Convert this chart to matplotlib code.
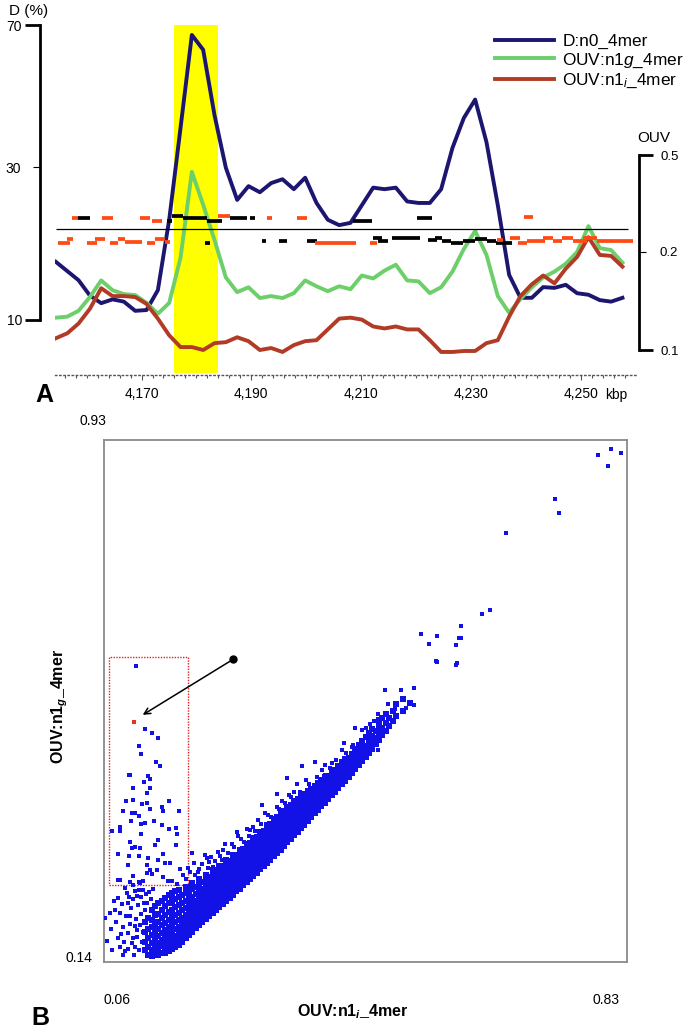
import numpy as np
import matplotlib
matplotlib.use('Agg')
import matplotlib.pyplot as plt
from matplotlib.patches import Rectangle

plt.rcParams['font.family'] = ['Liberation Sans', 'DejaVu Sans']
plt.rcParams['mathtext.fontset'] = 'custom'
plt.rcParams['mathtext.rm'] = 'Liberation Sans'
plt.rcParams['mathtext.it'] = 'Liberation Sans:italic'
plt.rcParams['mathtext.bf'] = 'Liberation Sans:bold'
plt.rcParams['mathtext.bfit'] = 'Liberation Sans:italic:bold'

# ---------------- panel A data ----------------
kbp = np.linspace(4154.4, 4257.6, 51)   # window centres

d_n0 = [17.6, 16.4, 15.2, 13.2, 12.2, 12.7, 12.4, 11.2, 11.3, 13.9,
        23.1, 41.0, 67.2, 63.0, 44.6, 29.9, 25.7, 27.5, 26.7, 27.9,
        28.4, 27.1, 28.6, 25.3, 23.1, 22.4, 22.7, 25.0, 27.3, 27.1,
        27.3, 25.5, 25.3, 25.3, 27.1, 35.4, 43.8, 49.0, 37.0, 25.0,
        15.9, 12.9, 12.9, 14.3, 14.2, 14.6, 13.5, 13.3, 12.6, 12.4, 12.9]

ouv_g = [0.133, 0.134, 0.140, 0.154, 0.171, 0.161, 0.157, 0.156, 0.148, 0.137,
         0.148, 0.194, 0.448, 0.346, 0.237, 0.174, 0.159, 0.164, 0.153, 0.155,
         0.153, 0.158, 0.171, 0.165, 0.160, 0.165, 0.162, 0.176, 0.173, 0.181,
         0.187, 0.171, 0.170, 0.158, 0.164, 0.180, 0.209, 0.265, 0.197, 0.155,
         0.138, 0.152, 0.164, 0.174, 0.180, 0.188, 0.200, 0.280, 0.212, 0.206, 0.189]

ouv_i = [0.112, 0.117, 0.127, 0.142, 0.163, 0.155, 0.155, 0.154, 0.147, 0.132,
         0.115, 0.103, 0.103, 0.100, 0.107, 0.108, 0.113, 0.109, 0.100, 0.102,
         0.098, 0.105, 0.109, 0.110, 0.121, 0.132, 0.133, 0.131, 0.124, 0.122,
         0.124, 0.121, 0.121, 0.110, 0.098, 0.098, 0.099, 0.099, 0.107, 0.110,
         0.134, 0.155, 0.167, 0.176, 0.168, 0.183, 0.195, 0.246, 0.197, 0.196, 0.185]

# short segments (start kbp, end kbp, OUV level)
red_segs = [(4157.3, 4158.4, 0.305), (4162.8, 4164.8, 0.305), (4169.7, 4171.5, 0.305),
            (4171.9, 4173.7, 0.296), (4183.9, 4186.1, 0.311), (4192.9, 4193.8, 0.305),
            (4198.3, 4200.1, 0.305), (4239.7, 4241.3, 0.308),
            (4154.8, 4157.0, 0.228), (4156.4, 4157.5, 0.240), (4160.1, 4161.9, 0.228),
            (4161.5, 4163.4, 0.240), (4164.3, 4165.7, 0.228), (4165.7, 4167.0, 0.240),
            (4167.0, 4170.1, 0.231), (4171.0, 4172.5, 0.228), (4172.5, 4174.3, 0.240),
            (4174.3, 4175.2, 0.231), (4201.6, 4209.1, 0.228), (4211.6, 4212.9, 0.228),
            (4234.8, 4235.9, 0.237), (4237.1, 4239.0, 0.243), (4238.6, 4240.2, 0.228),
            (4240.2, 4242.0, 0.234), (4242.0, 4243.5, 0.234), (4243.1, 4245.0, 0.243),
            (4245.0, 4246.6, 0.234), (4246.6, 4248.6, 0.243), (4248.6, 4251.2, 0.234),
            (4250.4, 4253.0, 0.243), (4253.0, 4259.5, 0.234)]
black_segs = [(4158.4, 4160.6, 0.305), (4174.6, 4175.6, 0.296), (4175.6, 4177.6, 0.311),
              (4177.6, 4181.9, 0.305), (4181.9, 4184.7, 0.296), (4186.1, 4189.2, 0.305),
              (4189.7, 4190.7, 0.305), (4208.5, 4212.0, 0.296), (4220.2, 4222.9, 0.305),
              (4181.6, 4182.5, 0.228), (4191.9, 4192.7, 0.234), (4195.0, 4196.5, 0.234),
              (4200.1, 4202.0, 0.234), (4212.2, 4213.8, 0.243), (4213.1, 4214.9, 0.234),
              (4215.6, 4220.7, 0.243), (4222.2, 4223.9, 0.237), (4223.5, 4224.8, 0.243),
              (4224.8, 4226.3, 0.234), (4226.3, 4228.6, 0.228), (4228.6, 4230.8, 0.234),
              (4230.8, 4233.0, 0.240), (4233.0, 4234.5, 0.234), (4234.5, 4237.5, 0.228)]
threshold = 0.271
island = (4175.9, 4183.9)

# ---------------- panel B data ----------------
# dense diagonal band, listed column by column: (OUV:n1i, [OUV:n1g ...])
band_cols = [
    (0.120, [0.158, 0.171, 0.186, 0.201]),
    (0.125, [0.151, 0.163, 0.176, 0.190, 0.207]),
    (0.130, [0.149, 0.158, 0.169, 0.181, 0.193, 0.204, 0.218]),
    (0.135, [0.153, 0.163, 0.174, 0.186, 0.197, 0.211, 0.225]),
    (0.140, [0.150, 0.159, 0.168, 0.179, 0.190, 0.201, 0.213, 0.229]),
    (0.145, [0.154, 0.164, 0.173, 0.184, 0.196, 0.207, 0.219, 0.233]),
    (0.150, [0.153, 0.161, 0.170, 0.179, 0.188, 0.199, 0.211, 0.224, 0.237]),
    (0.155, [0.157, 0.166, 0.175, 0.184, 0.193, 0.204, 0.216, 0.229, 0.241]),
    (0.160, [0.159, 0.168, 0.177, 0.186, 0.196, 0.207, 0.219, 0.232, 0.244]),
    (0.165, [0.162, 0.171, 0.180, 0.190, 0.200, 0.211, 0.223, 0.236, 0.247]),
    (0.170, [0.166, 0.175, 0.184, 0.193, 0.203, 0.214, 0.226, 0.239, 0.249]),
    (0.175, [0.171, 0.179, 0.188, 0.197, 0.207, 0.218, 0.229, 0.242]),
    (0.180, [0.176, 0.184, 0.193, 0.202, 0.211, 0.221, 0.232, 0.245, 0.254]),
    (0.185, [0.181, 0.189, 0.198, 0.207, 0.216, 0.225, 0.236, 0.248]),
    (0.190, [0.186, 0.194, 0.203, 0.211, 0.220, 0.229, 0.239, 0.250, 0.259]),
    (0.195, [0.191, 0.199, 0.207, 0.216, 0.224, 0.233, 0.243, 0.254]),
    (0.200, [0.196, 0.204, 0.212, 0.220, 0.229, 0.237, 0.246, 0.257, 0.265]),
    (0.205, [0.200, 0.208, 0.216, 0.225, 0.233, 0.242, 0.251, 0.261]),
    (0.210, [0.205, 0.213, 0.221, 0.229, 0.237, 0.246, 0.255, 0.264, 0.272]),
    (0.215, [0.209, 0.217, 0.225, 0.233, 0.242, 0.250, 0.259, 0.268]),
    (0.220, [0.214, 0.222, 0.230, 0.238, 0.246, 0.255, 0.263, 0.272, 0.279]),
    (0.225, [0.219, 0.227, 0.235, 0.243, 0.251, 0.259, 0.268, 0.277]),
    (0.230, [0.223, 0.231, 0.239, 0.247, 0.255, 0.263, 0.272, 0.280, 0.286]),
    (0.235, [0.228, 0.236, 0.244, 0.252, 0.260, 0.268, 0.276, 0.285]),
    (0.240, [0.233, 0.241, 0.249, 0.257, 0.264, 0.272, 0.280, 0.288, 0.294]),
    (0.245, [0.237, 0.245, 0.253, 0.261, 0.269, 0.277, 0.285, 0.293]),
    (0.250, [0.242, 0.250, 0.258, 0.266, 0.273, 0.281, 0.289, 0.297, 0.302]),
    (0.255, [0.247, 0.255, 0.263, 0.270, 0.278, 0.286, 0.294, 0.302]),
    (0.260, [0.251, 0.259, 0.267, 0.275, 0.283, 0.290, 0.298, 0.305, 0.310]),
    (0.265, [0.256, 0.264, 0.272, 0.280, 0.287, 0.295, 0.303, 0.311]),
    (0.270, [0.261, 0.269, 0.276, 0.284, 0.292, 0.300, 0.307, 0.314, 0.318]),
    (0.275, [0.265, 0.273, 0.281, 0.289, 0.296, 0.304, 0.312, 0.320]),
    (0.280, [0.270, 0.278, 0.286, 0.293, 0.301, 0.309, 0.316, 0.323, 0.327]),
    (0.285, [0.275, 0.283, 0.290, 0.298, 0.306, 0.313, 0.321, 0.329]),
    (0.290, [0.280, 0.288, 0.295, 0.303, 0.310, 0.318, 0.326, 0.333, 0.337]),
    (0.295, [0.285, 0.293, 0.300, 0.308, 0.315, 0.323, 0.331, 0.339]),
    (0.300, [0.290, 0.298, 0.305, 0.313, 0.320, 0.328, 0.336, 0.343, 0.347]),
    (0.305, [0.295, 0.303, 0.310, 0.318, 0.325, 0.333, 0.341, 0.349]),
    (0.310, [0.300, 0.308, 0.315, 0.323, 0.330, 0.338, 0.346, 0.353, 0.357]),
    (0.315, [0.305, 0.313, 0.320, 0.328, 0.335, 0.343, 0.351, 0.359]),
    (0.320, [0.310, 0.318, 0.325, 0.333, 0.340, 0.348, 0.355, 0.362, 0.367]),
    (0.325, [0.315, 0.323, 0.330, 0.338, 0.345, 0.352, 0.360, 0.368]),
    (0.330, [0.321, 0.328, 0.336, 0.343, 0.350, 0.357, 0.364, 0.371, 0.375]),
    (0.335, [0.326, 0.334, 0.341, 0.348, 0.355, 0.362, 0.370, 0.378]),
    (0.340, [0.332, 0.339, 0.346, 0.353, 0.360, 0.367, 0.374, 0.380, 0.383]),
    (0.345, [0.337, 0.344, 0.351, 0.358, 0.365, 0.372, 0.379, 0.387]),
    (0.350, [0.343, 0.350, 0.357, 0.364, 0.371, 0.378, 0.385, 0.391]),
    (0.355, [0.348, 0.355, 0.362, 0.369, 0.376, 0.383, 0.390, 0.395]),
    (0.360, [0.354, 0.361, 0.368, 0.375, 0.382, 0.389, 0.396, 0.399]),
    (0.365, [0.359, 0.366, 0.373, 0.380, 0.387, 0.394, 0.402]),
    (0.370, [0.365, 0.372, 0.379, 0.386, 0.393, 0.400, 0.407]),
    (0.375, [0.370, 0.377, 0.384, 0.391, 0.398, 0.405, 0.411]),
    (0.380, [0.376, 0.383, 0.390, 0.397, 0.404, 0.410, 0.415]),
    (0.385, [0.381, 0.388, 0.395, 0.402, 0.409, 0.416, 0.420]),
    (0.390, [0.387, 0.394, 0.401, 0.408, 0.415, 0.421]),
    (0.395, [0.392, 0.399, 0.406, 0.413, 0.420, 0.427]),
    (0.400, [0.398, 0.405, 0.412, 0.419, 0.426, 0.431]),
    (0.405, [0.403, 0.410, 0.417, 0.424, 0.431, 0.436]),
    (0.410, [0.409, 0.416, 0.423, 0.430, 0.437, 0.442]),
    (0.415, [0.414, 0.421, 0.428, 0.435, 0.442, 0.447]),
    (0.420, [0.420, 0.427, 0.434, 0.441, 0.448]),
    (0.425, [0.426, 0.433, 0.440, 0.447, 0.455]),
    (0.430, [0.432, 0.439, 0.446, 0.454, 0.462]),
    (0.435, [0.438, 0.446, 0.453, 0.461, 0.468]),
    (0.440, [0.444, 0.452, 0.460, 0.467, 0.475]),
    (0.445, [0.450, 0.459, 0.467, 0.480]),
    (0.450, [0.456, 0.465, 0.474, 0.486]),
    (0.455, [0.463, 0.472, 0.482, 0.493]),
    (0.460, [0.470, 0.479, 0.490]),
    (0.465, [0.476, 0.486, 0.497, 0.506]),
    (0.470, [0.483, 0.494, 0.510]),
    (0.475, [0.490, 0.501, 0.515]),
    (0.480, [0.497, 0.509]),
    (0.485, [0.505, 0.520]),
    (0.490, [0.512, 0.530]),
    (0.500, [0.520, 0.538]),
    (0.510, [0.532]),
]

# scattered points outside the band
spread_pts = [
    (0.107, 0.588), (0.120, 0.492), (0.130, 0.486), (0.140, 0.479), (0.111, 0.467),
    (0.115, 0.455), (0.136, 0.442), (0.142, 0.437), (0.097, 0.423), (0.099, 0.423),
    (0.125, 0.421), (0.128, 0.417), (0.119, 0.413), (0.103, 0.403), (0.128, 0.403),
    (0.123, 0.396), (0.092, 0.383), (0.102, 0.385), (0.116, 0.379), (0.123, 0.381),
    (0.155, 0.383), (0.128, 0.371), (0.146, 0.375), (0.147, 0.368), (0.088, 0.368),
    (0.101, 0.365), (0.105, 0.366), (0.112, 0.361), (0.170, 0.368), (0.100, 0.354),
    (0.120, 0.351), (0.134, 0.353), (0.114, 0.349), (0.084, 0.345), (0.146, 0.347),
    (0.155, 0.342), (0.166, 0.343), (0.072, 0.338), (0.083, 0.338), (0.115, 0.334),
    (0.168, 0.334), (0.098, 0.321), (0.140, 0.325), (0.135, 0.317), (0.166, 0.317),
    (0.101, 0.312), (0.106, 0.314), (0.113, 0.312), (0.080, 0.303), (0.097, 0.300),
    (0.112, 0.301), (0.125, 0.297), (0.147, 0.303), (0.139, 0.295), (0.096, 0.287),
    (0.123, 0.287), (0.150, 0.290), (0.157, 0.290), (0.128, 0.279), (0.138, 0.279),
    (0.123, 0.274), (0.130, 0.273), (0.103, 0.270), (0.147, 0.269), (0.080, 0.264),
    (0.084, 0.264), (0.099, 0.261), (0.111, 0.261), (0.118, 0.262), (0.154, 0.262),
    (0.103, 0.257), (0.113, 0.259),
    (0.106, 0.247), (0.111, 0.249), (0.081, 0.237), (0.096, 0.229), (0.076, 0.219),
    (0.084, 0.214), (0.062, 0.206), (0.098, 0.209), (0.106, 0.194), (0.108, 0.189),
    (0.096, 0.184), (0.103, 0.176), (0.106, 0.163), (0.091, 0.156), (0.115, 0.239),
    (0.065, 0.172), (0.070, 0.190), (0.072, 0.158), (0.078, 0.201), (0.080, 0.176),
    (0.083, 0.163), (0.086, 0.228), (0.088, 0.193), (0.090, 0.171), (0.092, 0.209),
    (0.094, 0.245), (0.095, 0.160), (0.098, 0.197), (0.100, 0.221), (0.101, 0.169),
    (0.103, 0.235), (0.104, 0.151), (0.107, 0.205), (0.109, 0.178), (0.110, 0.226),
    (0.112, 0.158), (0.113, 0.196), (0.114, 0.213), (0.116, 0.170), (0.117, 0.249),
    (0.118, 0.186), (0.119, 0.229), (0.088, 0.150), (0.097, 0.238), (0.075, 0.232),
    (0.069, 0.214), (0.091, 0.252), (0.085, 0.182), (0.108, 0.240), (0.121, 0.218),
    (0.122, 0.243), (0.124, 0.230), (0.126, 0.246), (0.129, 0.236), (0.132, 0.250),
    (0.189, 0.305), (0.194, 0.272), (0.209, 0.302), (0.211, 0.297), (0.228, 0.307),
    (0.221, 0.284), (0.233, 0.295), (0.258, 0.330), (0.270, 0.342), (0.275, 0.340),
    (0.287, 0.355), (0.292, 0.378), (0.314, 0.395), (0.314, 0.375), (0.329, 0.418),
    (0.332, 0.393), (0.344, 0.410), (0.351, 0.436), (0.371, 0.443), (0.386, 0.438),
    (0.386, 0.423), (0.395, 0.441), (0.410, 0.461), (0.413, 0.471), (0.425, 0.466),
    (0.427, 0.468), (0.430, 0.494), (0.437, 0.456), (0.440, 0.491), (0.454, 0.476),
    (0.457, 0.504), (0.464, 0.516), (0.464, 0.461), (0.469, 0.489), (0.427, 0.443),
    (0.408, 0.431), (0.176, 0.271), (0.183, 0.283), (0.200, 0.281), (0.215, 0.292),
    (0.235, 0.309), (0.248, 0.318), (0.262, 0.326), (0.279, 0.345), (0.301, 0.362),
    (0.322, 0.384), (0.339, 0.398), (0.357, 0.415),
    (0.160, 0.262), (0.168, 0.258), (0.172, 0.281), (0.180, 0.266), (0.187, 0.276),
    (0.193, 0.290), (0.198, 0.276), (0.205, 0.288), (0.213, 0.283), (0.218, 0.299),
    (0.224, 0.293), (0.231, 0.300), (0.238, 0.318), (0.243, 0.305), (0.252, 0.314),
    (0.256, 0.337), (0.266, 0.322), (0.273, 0.331), (0.282, 0.338), (0.291, 0.349),
    (0.297, 0.366), (0.306, 0.359), (0.318, 0.372), (0.327, 0.381), (0.336, 0.390),
    (0.348, 0.398), (0.362, 0.410), (0.374, 0.420), (0.381, 0.431), (0.393, 0.434),
    (0.402, 0.445), (0.417, 0.456), (0.446, 0.494), (0.452, 0.500), (0.478, 0.530),
    (0.474, 0.552), (0.497, 0.552), (0.516, 0.554), (0.516, 0.529), (0.504, 0.525),
    (0.488, 0.523), (0.549, 0.596), (0.551, 0.594), (0.579, 0.593), (0.578, 0.590),
    (0.578, 0.619), (0.583, 0.630), (0.585, 0.630), (0.586, 0.648), (0.526, 0.636),
    (0.550, 0.634), (0.539, 0.622), (0.617, 0.667), (0.629, 0.673), (0.652, 0.790),
    (0.724, 0.840), (0.730, 0.820), (0.788, 0.907), (0.807, 0.917), (0.821, 0.911),
    (0.802, 0.890),
]
marked_pt = (0.104, 0.503)
arrow_from = (0.250, 0.598)
arrow_to = (0.117, 0.514)
box_x = (0.067, 0.184)
box_y = (0.257, 0.601)


def d_fwd(v):
    v = np.asarray(v, float)
    return np.where(v < 30, (v - 10) * 7.65, 153 + (v - 30) * 3.55)


def d_inv(u):
    u = np.asarray(u, float)
    return np.where(u < 153, 10 + u / 7.65, 30 + (u - 153) / 3.55)


def o_fwd(v):
    v = np.asarray(v, float)
    return np.where(v < 0.2, (v - 0.1) * 980, 98 + (v - 0.2) * 323)


def o_inv(u):
    u = np.asarray(u, float)
    return np.where(u < 98, 0.1 + u / 980, 0.2 + (u - 98) / 323)


fig = plt.figure(figsize=(6.85, 10.29), dpi=100)

# ================= panel A =================
ax = fig.add_axes([55 / 685, 1 - 375 / 1029, 582 / 685, 355 / 1029])
ax2 = ax.twinx()

ax.set_yscale('function', functions=(d_fwd, d_inv))
ax2.set_yscale('function', functions=(o_fwd, o_inv))
ax.set_xlim(4154.24, 4260.25)
ax.set_ylim(2.81, 71.41)
ax2.set_ylim(0.0745, 0.918)

ax.axvspan(island[0], island[1], ymin=0.006, ymax=0.986, color='#ffff00', lw=0, zorder=0)
l1, = ax.plot(kbp, d_n0, color='#1c1670', lw=2.8, zorder=3)
l2, = ax2.plot(kbp, ouv_g, color='#6ccf6a', lw=2.8, zorder=3)
l3, = ax2.plot(kbp, ouv_i, color='#b23b26', lw=2.8, zorder=4)

ax2.hlines(threshold, 4154.4, 4258.6, color='black', lw=0.9, zorder=5)
for x0, x1, y in black_segs:
    ax2.hlines(y, x0, x1, color='black', lw=2.7, zorder=6)
for x0, x1, y in red_segs:
    ax2.hlines(y, x0, x1, color='#ff4a14', lw=2.7, zorder=7)

for s in ['top', 'right']:
    ax.spines[s].set_visible(False)
for s in ['top', 'left', 'bottom']:
    ax2.spines[s].set_visible(False)

ax.spines['bottom'].set_linestyle((0, (1, 2)))
ax.spines['bottom'].set_color('#555555')
ax.spines['bottom'].set_linewidth(1.0)
ax.set_xticks([4170, 4190, 4210, 4230, 4250], ['4,170', '4,190', '4,210', '4,230', '4,250'])
ax.set_xticks(np.arange(4156, 4260, 2), minor=True)
ax.tick_params(axis='x', which='major', length=3.5, width=0.8, color='#555555',
               labelsize=10, pad=5)
ax.tick_params(axis='x', which='minor', length=2.2, width=0.8, color='#555555')

ax.spines['left'].set_position(('outward', 10.8))
ax.spines['left'].set_bounds(10, 70)
ax.spines['left'].set_linewidth(2.0)
ax.set_yticks([10, 70], ['10', '70'])
ax.set_yticks([30], ['30'], minor=True)
ax.tick_params(axis='y', which='major', length=10.8, width=2.0, labelsize=10, pad=2)
ax.tick_params(axis='y', which='minor', length=5, width=0.8, labelsize=10, pad=9)

ax2.spines['right'].set_position(('outward', 1.5))
ax2.spines['right'].set_bounds(0.1, 0.5)
ax2.spines['right'].set_linewidth(2.0)
ax2.set_yticks([0.1, 0.5], ['0.1', '0.5'])
ax2.set_yticks([0.2], ['0.2'], minor=True)
ax2.tick_params(axis='y', which='major', length=10, width=2.0, labelsize=9.5, pad=5.5)
ax2.tick_params(axis='y', which='minor', length=5, width=0.8, labelsize=9.5, pad=9.5)

leg = ax2.legend([l1, l2, l3],
                 ['D:n0_4mer', r'OUV:n1$\mathit{g}$_4mer', r'OUV:n1$_\mathit{i}$_4mer'],
                 loc='upper left', bbox_to_anchor=(495 / 685, 1 - 34 / 1029),
                 bbox_transform=fig.transFigure, frameon=False, fontsize=12.4,
                 handlelength=3.4, handletextpad=0.5, labelspacing=0.12,
                 borderpad=0, borderaxespad=0)

fig.text(9 / 685, 1 - 11 / 1029, 'D (%)', ha='left', va='center', fontsize=11)
fig.text(654 / 685, 1 - 138 / 1029, 'OUV', ha='center', va='center', fontsize=11)
fig.text(605 / 685, 1 - 395 / 1029, 'kbp', ha='left', va='center', fontsize=10)
fig.text(44 / 685, 1 - 395 / 1029, 'A', ha='center', va='center', fontsize=18,
         fontweight='bold')

# ================= panel B =================
bx = fig.add_axes([104 / 685, 1 - 962 / 1029, 523 / 685, 522 / 1029])
bx.set_xlim(0.06, 0.83)
bx.set_ylim(0.14, 0.93)
bx.set_xticks([])
bx.set_yticks([])
for s in bx.spines.values():
    s.set_color('#8a8a8a')
    s.set_linewidth(1.3)

band_x = [c[0] for c in band_cols for _ in c[1]]
band_y = [y for c in band_cols for y in c[1]]
sx, sy = zip(*spread_pts)
bx.scatter(band_x, band_y, marker='s', s=14, color='#1212e6', linewidths=0, zorder=3)
bx.scatter(sx, sy, marker='s', s=6.5, color='#1212e6', linewidths=0, zorder=3)
bx.scatter([marked_pt[0]], [marked_pt[1]], marker='s', s=6, color='#e8321e',
           linewidths=0, zorder=4)

bx.add_patch(Rectangle((box_x[0], box_y[0]), box_x[1] - box_x[0], box_y[1] - box_y[0],
                       fill=False, edgecolor='#e02020', lw=1.0, linestyle=(0, (1, 1)),
                       zorder=2))
bx.annotate('', xy=arrow_to, xytext=arrow_from,
            arrowprops=dict(arrowstyle='->', color='black', lw=1.1,
                            shrinkA=0, shrinkB=0, mutation_scale=11), zorder=5)
bx.plot([arrow_from[0]], [arrow_from[1]], 'o', color='black', ms=5, zorder=6)

bx.text(0.0, -0.073, '0.06', transform=bx.transAxes, ha='left', va='center', fontsize=10)
bx.text(0.985, -0.073, '0.83', transform=bx.transAxes, ha='right', va='center', fontsize=10)
bx.text(0.004, 1.036, '0.93', transform=bx.transAxes, ha='right', va='center', fontsize=10)
bx.text(-0.023, 0.008, '0.14', transform=bx.transAxes, ha='right', va='center', fontsize=10)
bx.text(0.476, -0.096, r'OUV:n1$_\mathbfit{i}$_4mer', transform=bx.transAxes,
        ha='center', va='center', fontsize=11.5, fontweight='bold')
bx.text(-0.085, 0.49, r'OUV:n1$_\mathbfit{g}$_4mer', transform=bx.transAxes,
        ha='center', va='center', rotation=90, fontsize=11.5, fontweight='bold')
fig.text(40 / 685, 1 - 1018 / 1029, 'B', ha='center', va='center', fontsize=18,
         fontweight='bold')

fig.savefig('out.png', dpi=100)
